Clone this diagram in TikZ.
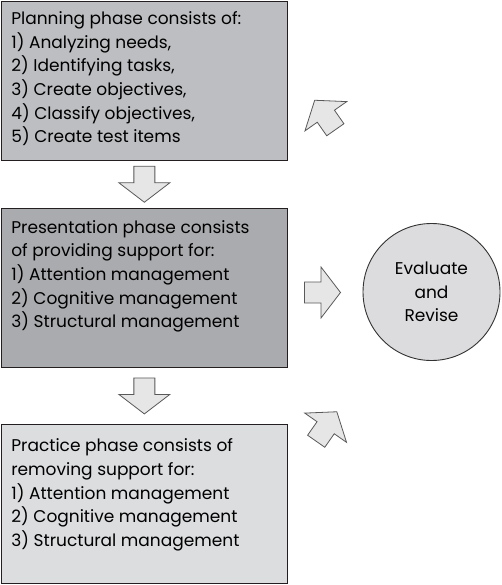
\documentclass[tikz,border=0pt]{standalone}
\usepackage{fontspec}
\setmainfont{Poppins}
\usetikzlibrary{calc}

\definecolor{planfill}{HTML}{BDBEC1}
\definecolor{presfill}{HTML}{AAABAE}
\definecolor{pracfill}{HTML}{DCDDDF}
\definecolor{evalfill}{HTML}{DCDCDE}
\definecolor{arrfill}{HTML}{E6E6E6}
\definecolor{boxline}{HTML}{231F20}

\newcommand{\phasetext}[2][10pt]{\parbox[c][159pt][t]{266pt}{\vspace*{#1}#2}}

\begin{document}
\begin{tikzpicture}[x=1pt,y=-1pt,
    phase/.style={draw=boxline,line width=1.3pt,anchor=north west,
      inner xsep=0pt,inner ysep=0pt,minimum width=286pt,minimum height=159pt,
      font=\fontsize{17}{23.7}\selectfont},
    blockarrow/.pic={
      \draw[draw=black!65,fill=arrfill,line width=0.8pt,line join=miter]
        (-18,-10.5)--(-1.5,-10.5)--(-1.5,-25.5)--(18,0)--(-1.5,25.5)
        --(-1.5,10.5)--(-18,10.5)--cycle;}]
      \useasboundingbox (0,0) rectangle (501,585);
      \node[phase,fill=planfill] (plan) at (0.7,0.7) {\phasetext{%
        Planning phase consists of:\\
        1) Analyzing needs,\\
        2) Identifying tasks,\\
        3) Create objectives,\\
        4) Classify objectives,\\
        5) Create test items}};
      \node[phase,fill=presfill] (pres) at (0.7,207.5) {\phasetext[12pt]{%
        Presentation phase consists\\
        of providing support for:\\
        1) Attention management\\
        2) Cognitive management\\
        3) Structural management}};
      \node[phase,fill=pracfill] (prac) at (0.7,424) {\phasetext[14pt]{%
        Practice phase consists of\\
        removing support for:\\
        1) Attention management\\
        2) Cognitive management\\
        3) Structural management}};
      \node[draw=black!80,fill=evalfill,line width=0.9pt,shape=circle,
        minimum size=137pt,align=center,
        font=\fontsize{17}{23.5}\selectfont] (eval) at (431.5,292)
        {Evaluate\\and\\Revise};
      % arrows between the phases
      \pic[rotate=-90] at ($(plan.south)!0.5!(pres.north)$) {blockarrow};
      \pic[rotate=-90] at ($(pres.south)!0.5!(prac.north)$) {blockarrow};
      \pic at (322.5,292.5) {blockarrow};
      \pic[rotate=125] at (325,115) {blockarrow};
      \pic[rotate=55] at (326.5,426.5) {blockarrow};
    \end{tikzpicture}
\end{document}
